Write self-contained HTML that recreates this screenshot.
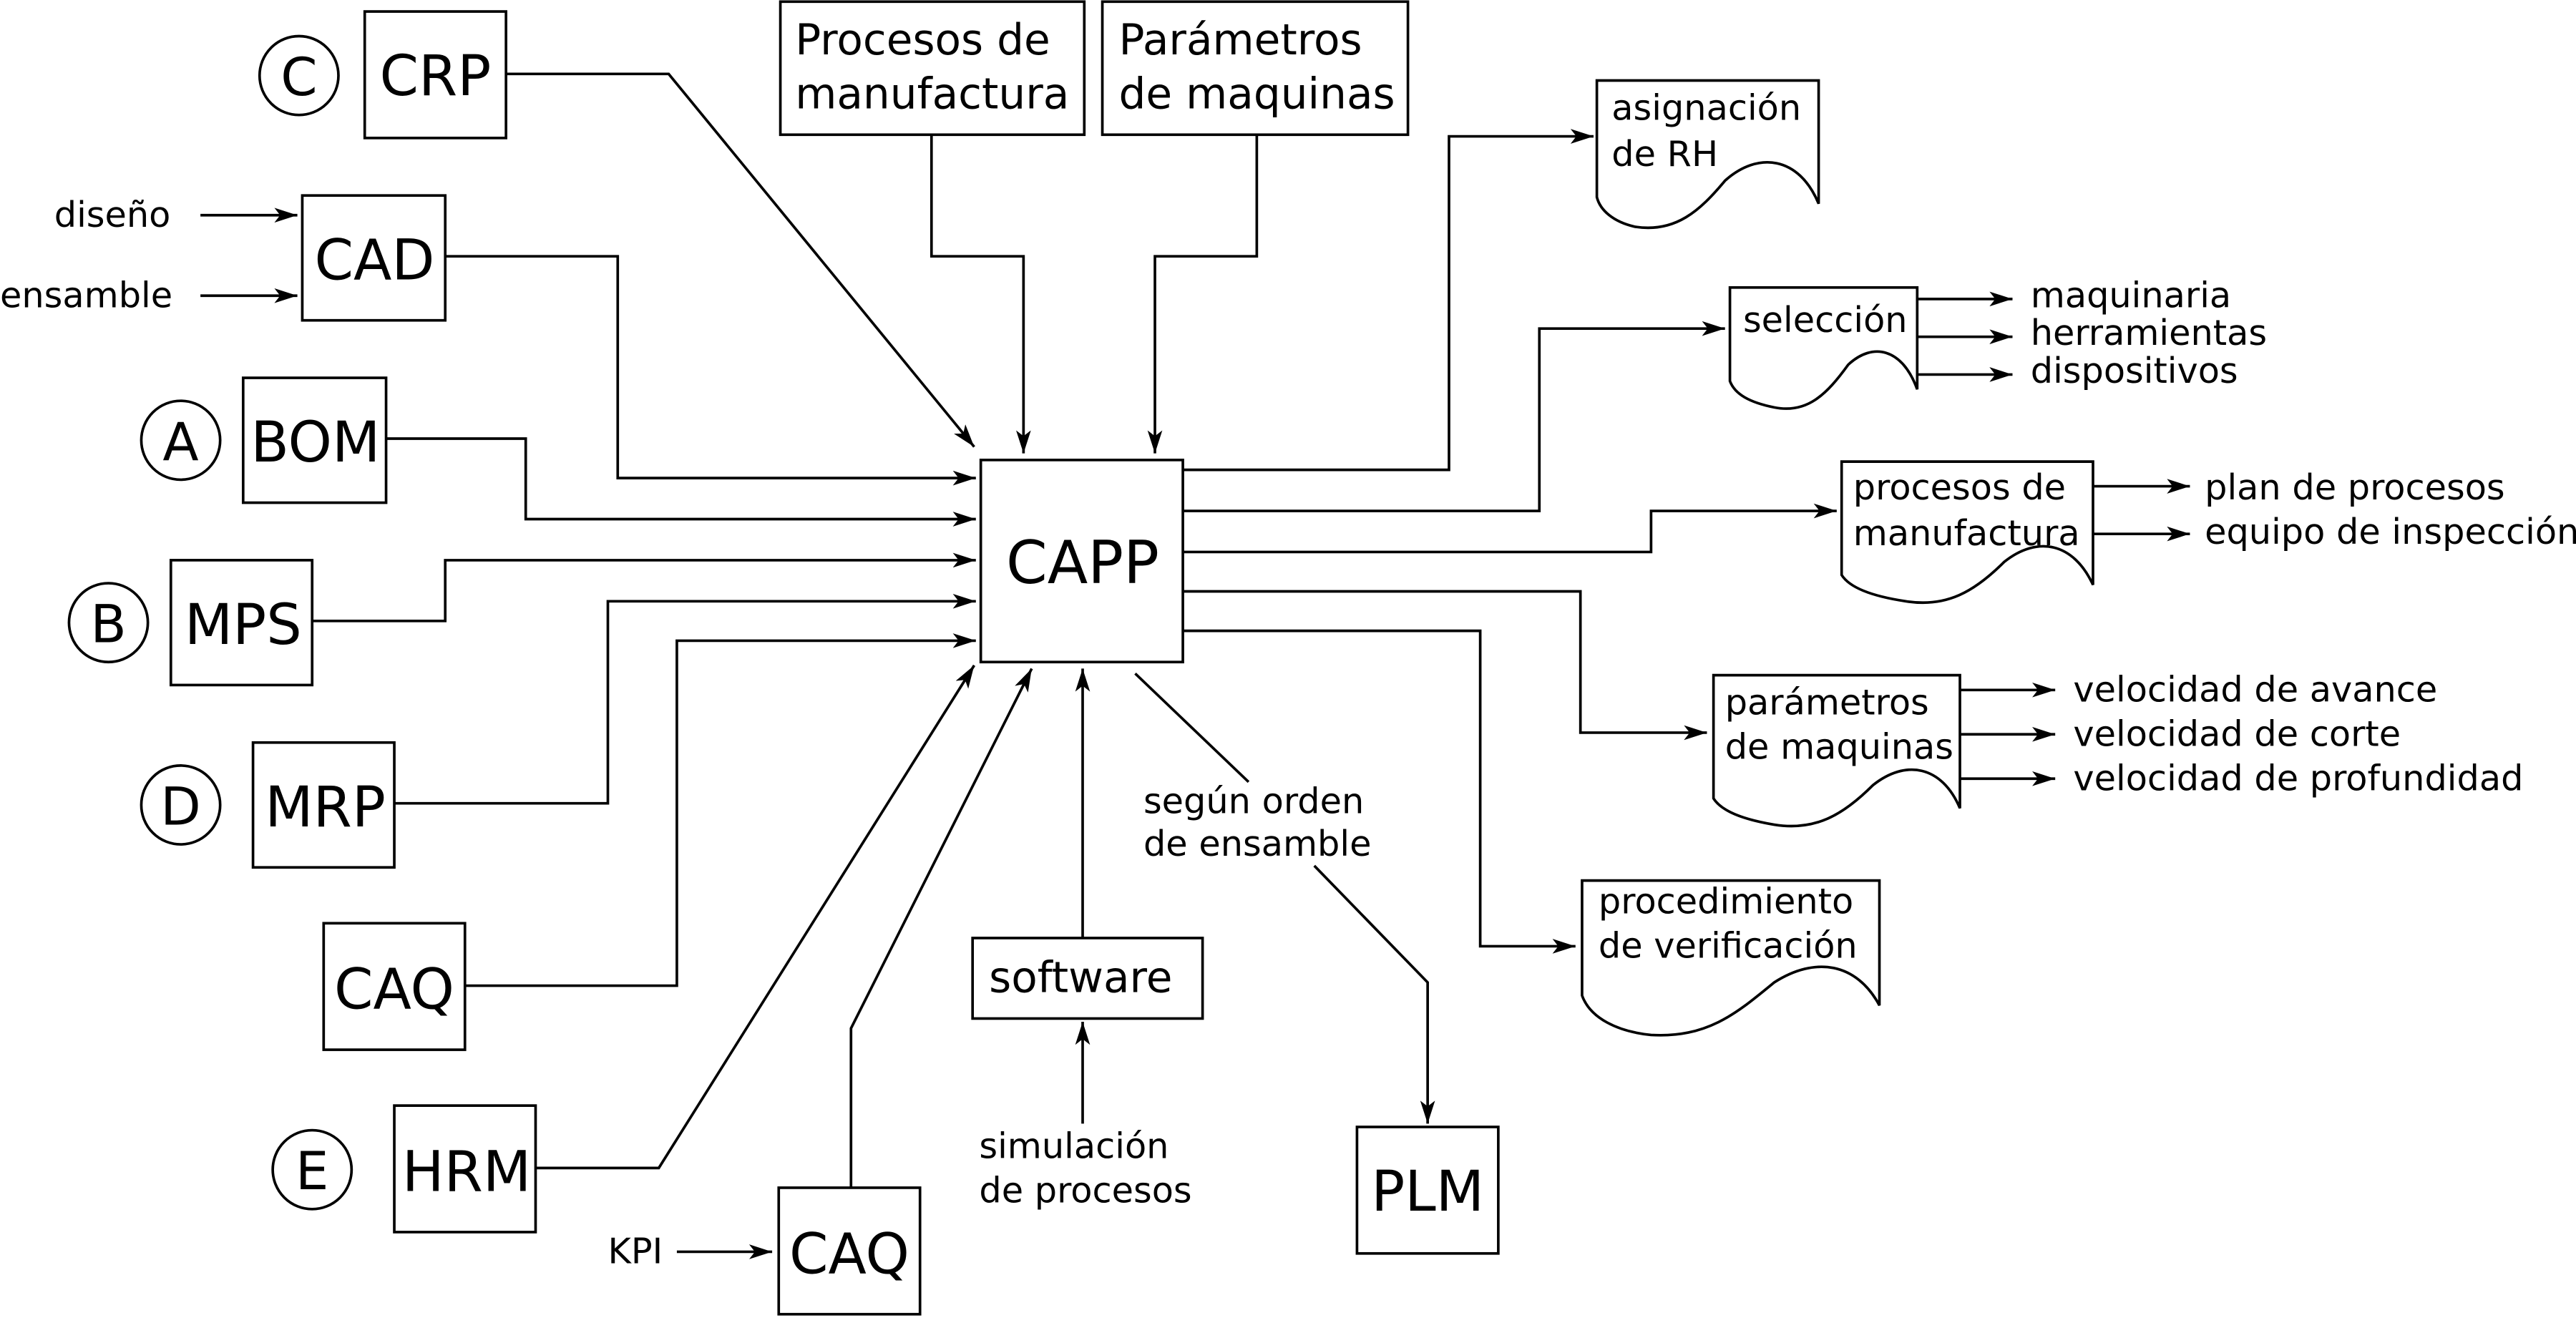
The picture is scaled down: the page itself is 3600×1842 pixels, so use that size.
<!DOCTYPE html>
<html><head><meta charset="utf-8"><style>
html,body{margin:0;padding:0;background:#fff;}
svg{display:block;}
text{font-family:"DejaVu Sans","Liberation Sans",sans-serif;fill:#000;}
</style></head><body>
<svg width="3600" height="1842" viewBox="0 0 1568 802.3" xmlns="http://www.w3.org/2000/svg">
<defs>
<marker id="a" viewBox="0 0 14 9" refX="14" refY="4.5" markerWidth="14" markerHeight="9" markerUnits="userSpaceOnUse" orient="auto">
<path d="M0,0 L14,4.5 L0,9 L3.5,4.5 Z" fill="#000"/>
</marker>
</defs>
<g fill="none" stroke="#000" stroke-width="1.6">
<rect x="222" y="7" width="86" height="77"/>
<rect x="475" y="1" width="185" height="81"/>
<rect x="671" y="1" width="186" height="81"/>
<rect x="184" y="119" width="87" height="76"/>
<rect x="148" y="230" width="87" height="76"/>
<rect x="104" y="341" width="86" height="76"/>
<rect x="154" y="452" width="86" height="76"/>
<rect x="197" y="562" width="86" height="77"/>
<rect x="240" y="673" width="86" height="77"/>
<rect x="474" y="723" width="86" height="77"/>
<rect x="597" y="280" width="123" height="123"/>
<rect x="592" y="571" width="140" height="49"/>
<rect x="826" y="686" width="86" height="77"/>
<circle cx="182" cy="46" r="24"/>
<circle cx="110" cy="268" r="24"/>
<circle cx="66" cy="379" r="24"/>
<circle cx="110" cy="490" r="24"/>
<circle cx="190" cy="712" r="24"/>
<path d="M972,49 H1107 V124 C1095,95 1070,92 1050,110 C1035,128 1020,142 995,138 C982,135 974,128 972,120 Z"/>
<path d="M1053,175 H1167 V237 C1158,212 1140,208 1125,222 C1112,240 1100,252 1080,248 C1065,245 1056,240 1053,232 Z"/>
<path d="M1121,281 H1274 V356 C1262,330 1240,326 1220,342 C1202,360 1185,370 1160,366 C1140,363 1126,358 1121,350 Z"/>
<path d="M1043,411 H1193 V492 C1182,466 1160,462 1140,478 C1122,496 1105,506 1080,502 C1062,499 1048,494 1043,486 Z"/>
<path d="M963,536 H1144 V612 C1130,586 1105,582 1080,598 C1058,616 1040,632 1005,630 C985,628 968,620 963,606 Z"/>
<path d="M308,45 H407 L593,272" marker-end="url(#a)"/>
<path d="M567,82 V156 H623 V276" marker-end="url(#a)"/>
<path d="M765,82 V156 H703 V276" marker-end="url(#a)"/>
<path d="M122,131 H181" marker-end="url(#a)"/>
<path d="M122,180 H181" marker-end="url(#a)"/>
<path d="M271,156 H376 V291 H594" marker-end="url(#a)"/>
<path d="M235,267 H320 V316 H594" marker-end="url(#a)"/>
<path d="M190,378 H271 V341 H594" marker-end="url(#a)"/>
<path d="M240,489 H370 V366 H594" marker-end="url(#a)"/>
<path d="M283,600 H412 V390 H594" marker-end="url(#a)"/>
<path d="M326,711 H401 L593,405" marker-end="url(#a)"/>
<path d="M518,723 V626 L628,407" marker-end="url(#a)"/>
<path d="M412,762 H470" marker-end="url(#a)"/>
<path d="M659,571 V407" marker-end="url(#a)"/>
<path d="M659,684 V622" marker-end="url(#a)"/>
<path d="M691,410 L760,476"/>
<path d="M800,527 L869,598 V684" marker-end="url(#a)"/>
<path d="M720,286 H882 V83 H970" marker-end="url(#a)"/>
<path d="M720,311 H937 V200 H1050" marker-end="url(#a)"/>
<path d="M720,336 H1005 V311 H1118" marker-end="url(#a)"/>
<path d="M720,360 H962 V446 H1039" marker-end="url(#a)"/>
<path d="M720,384 H901 V576 H959" marker-end="url(#a)"/>
<path d="M1167,182 H1225" marker-end="url(#a)"/>
<path d="M1167,205 H1225" marker-end="url(#a)"/>
<path d="M1167,228 H1225" marker-end="url(#a)"/>
<path d="M1274,296 H1333" marker-end="url(#a)"/>
<path d="M1274,325 H1333" marker-end="url(#a)"/>
<path d="M1193,420 H1251" marker-end="url(#a)"/>
<path d="M1193,447 H1251" marker-end="url(#a)"/>
<path d="M1193,474 H1251" marker-end="url(#a)"/>
</g>
<g font-size="32" text-anchor="middle">
<text x="182" y="58">C</text>
<text x="110" y="280">A</text>
<text x="66" y="391">B</text>
<text x="110" y="502">D</text>
<text x="190" y="724">E</text>
</g>
<g font-size="34" text-anchor="middle">
<text x="265" y="58">CRP</text>
<text x="228" y="170">CAD</text>
<text x="192" y="281">BOM</text>
<text x="148" y="392">MPS</text>
<text x="198" y="503">MRP</text>
<text x="240" y="614">CAQ</text>
<text x="284" y="725">HRM</text>
<text x="517" y="775">CAQ</text>
<text x="869" y="737">PLM</text>
<text x="659" y="355" font-size="36">CAPP</text>
</g>
<g font-size="26">
<text x="484" y="33">Procesos de</text>
<text x="484" y="66">manufactura</text>
<text x="681" y="33">Parámetros</text>
<text x="681" y="66">de maquinas</text>
<text x="602" y="604">software</text>
</g>
<g font-size="21.5">
<text x="33" y="138">diseño</text>
<text x="0" y="187">ensamble</text>
<text x="370" y="769">KPI</text>
<text x="596" y="705">simulación</text>
<text x="596" y="732">de procesos</text>
<text x="696" y="495">según orden</text>
<text x="696" y="521">de ensamble</text>
<text x="981" y="73">asignación</text>
<text x="981" y="101">de RH</text>
<text x="1061" y="202">selección</text>
<text x="1236" y="187">maquinaria</text>
<text x="1236" y="210">herramientas</text>
<text x="1236" y="233">dispositivos</text>
<text x="1128" y="304">procesos de</text>
<text x="1128" y="332">manufactura</text>
<text x="1342" y="304">plan de procesos</text>
<text x="1342" y="331">equipo de inspección</text>
<text x="1050" y="435">parámetros</text>
<text x="1050" y="462">de maquinas</text>
<text x="1262" y="427">velocidad de avance</text>
<text x="1262" y="454">velocidad de corte</text>
<text x="1262" y="481">velocidad de profundidad</text>
<text x="973" y="556">procedimiento</text>
<text x="973" y="583">de verificación</text>
</g>
</svg>
</body></html>
